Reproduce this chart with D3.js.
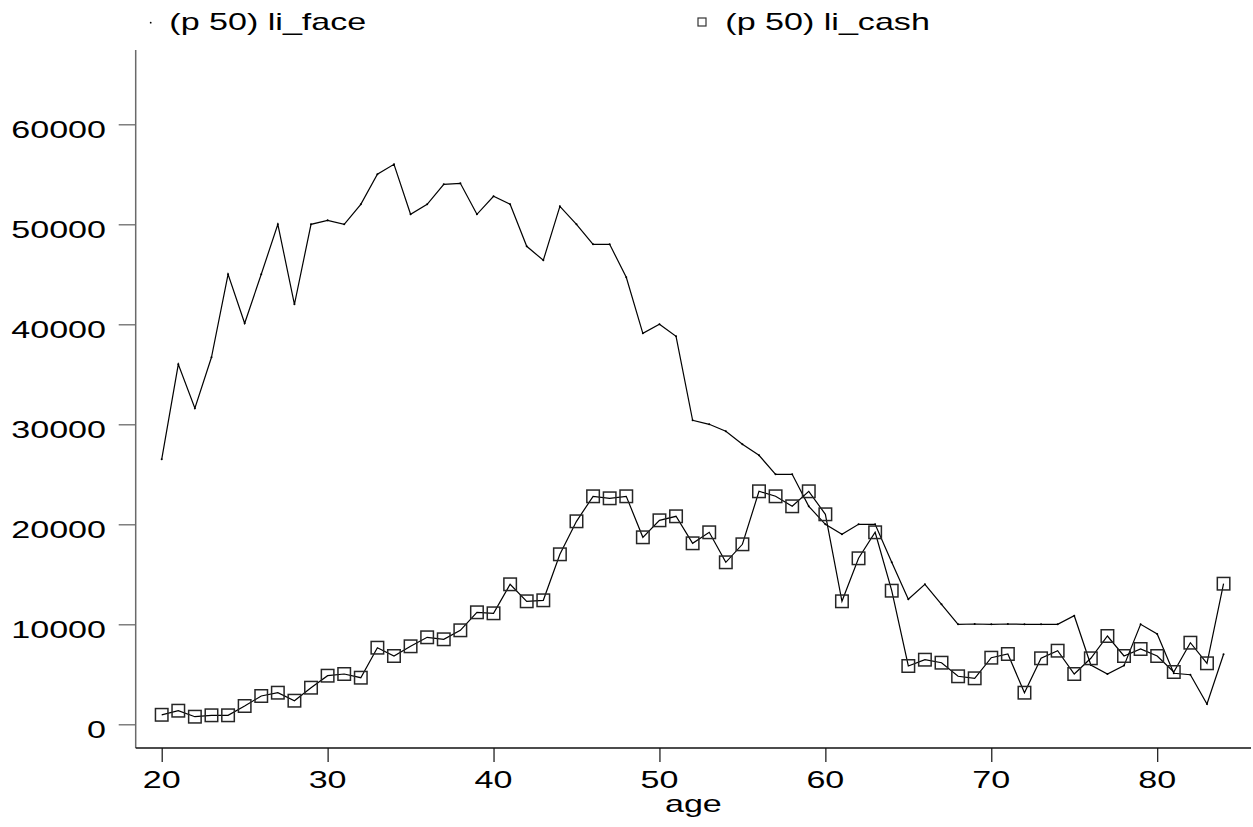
<!DOCTYPE html>
<html>
<head>
<meta charset="utf-8">
<style>
  body { margin: 0; background: #fff; }
  svg { display: block; }
  text { font-family: "Liberation Sans", Arial, sans-serif; fill: #000; }
</style>
</head>
<body>
<svg width="1253" height="827"></svg>
<script src="https://cdn.jsdelivr.net/npm/d3@7"></script>
<script>
  // ages on the x axis
  const ages = [20, 21, 22, 23, 24, 25, 26, 27, 28, 29,
                30, 31, 32, 33, 34, 35, 36, 37, 38, 39,
                40, 41, 42, 43, 44, 45, 46, 47, 48, 49,
                50, 51, 52, 53, 54, 55, 56, 57, 58, 59,
                60, 61, 62, 63, 64, 65, 66, 67, 68, 69,
                70, 71, 72, 73, 74, 75, 76, 77, 78, 79,
                80, 81, 82, 83, 84];

  // (p 50) li_face
  const liFace = [26500, 36000, 31600, 36700, 45000, 40100, 45000, 50000, 42000, 50000,
                  50400, 50000, 52000, 55000, 56000, 51000, 52000, 54000, 54100, 51000,
                  52800, 52000, 47800, 46400, 51800, 50000, 48000, 48000, 44700, 39100,
                  40000, 38800, 30400, 30000, 29300, 28000, 26900, 25000, 25000, 21800,
                  20000, 19000, 20000, 20000, 16200, 12500, 14000, 12000, 10000, 10030,
                  10000, 10030, 10000, 10000, 10000, 10860, 5930, 5030, 5870, 10000,
                  9030, 5100, 4960, 2030, 7000];

  // (p 50) li_cash
  const liCash = [950, 1360, 760, 900, 900, 1830, 2830, 3160, 2360, 3660,
                  4860, 5030, 4660, 7660, 6830, 7800, 8700, 8500, 9400, 11200,
                  11100, 14000, 12300, 12400, 17000, 20300, 22800, 22600, 22800, 18700,
                  20400, 20800, 18100, 19200, 16200, 18000, 23300, 22800, 21800, 23300,
                  21000, 12300, 16600, 19200, 13360, 5830, 6460, 6160, 4800, 4600,
                  6660, 7030, 3160, 6600, 7360, 5030, 6600, 8830, 6830, 7530,
                  6830, 5230, 8160, 6100, 14060];

  const xTicks = [20, 30, 40, 50, 60, 70, 80];
  const yTicks = [0, 10000, 20000, 30000, 40000, 50000, 60000];
  const legendLabels = ["(p 50) li_face", "(p 50) li_cash"];
  const xTitle = "age";

  const svg = d3.select("svg");
  const stretch = 1.42;   // the original glyphs are drawn wide

  const frame = { left: 135.7, right: 1251, top: 50, bottom: 748 };

  const x = d3.scaleLinear().domain([20, 80]).range([161.7, 1157.2]);
  const y = d3.scaleLinear().domain([0, 60000]).range([724.3, 124.3]);

  // y axis
  const yAxis = svg.append("g")
    .attr("transform", `translate(${frame.left},0)`)
    .call(d3.axisLeft(y).tickValues(yTicks).tickSize(17).tickFormat(d3.format("d")));
  yAxis.select(".domain").remove();
  yAxis.selectAll(".tick line").attr("stroke", "#6a6a6a").attr("stroke-width", 1.3);
  yAxis.selectAll(".tick text").remove();
  yAxis.append("line")
    .attr("x1", 0).attr("x2", 0)
    .attr("y1", frame.top).attr("y2", frame.bottom)
    .attr("stroke", "#6a6a6a").attr("stroke-width", 1.5);

  svg.append("g").selectAll("text")
    .data(yTicks)
    .join("text")
    .attr("text-anchor", "end")
    .attr("font-size", 24)
    .attr("transform", d => `translate(106,${y(d) + 14}) scale(${stretch},1)`)
    .text(d => d3.format("d")(d));

  // x axis
  const xAxis = svg.append("g")
    .attr("transform", `translate(0,${frame.bottom})`)
    .call(d3.axisBottom(x).tickValues(xTicks).tickSize(14));
  xAxis.select(".domain").remove();
  xAxis.selectAll(".tick line").attr("stroke", "#111").attr("stroke-width", 1.2);
  xAxis.selectAll(".tick text").remove();
  xAxis.append("line")
    .attr("x1", frame.left).attr("x2", frame.right)
    .attr("y1", 0).attr("y2", 0)
    .attr("stroke", "#111").attr("stroke-width", 1.5);

  svg.append("g").selectAll("text")
    .data(xTicks)
    .join("text")
    .attr("text-anchor", "middle")
    .attr("font-size", 24)
    .attr("transform", d => `translate(${x(d)},788) scale(${stretch},1)`)
    .text(d => d);

  svg.append("text")
    .attr("text-anchor", "middle")
    .attr("font-size", 24)
    .attr("transform", `translate(${(frame.left + frame.right) / 2},812) scale(${stretch},1)`)
    .text(xTitle);

  // series
  const faceData = ages.map((a, i) => ({ age: a, v: liFace[i] }));
  const cashData = ages.map((a, i) => ({ age: a, v: liCash[i] }));

  const line = d3.line().x(d => x(d.age)).y(d => y(d.v));

  svg.append("path")
    .datum(faceData)
    .attr("d", line)
    .attr("fill", "none")
    .attr("stroke", "#000")
    .attr("stroke-width", 1.2);

  svg.append("g").selectAll("circle")
    .data(faceData)
    .join("circle")
    .attr("cx", d => x(d.age))
    .attr("cy", d => y(d.v))
    .attr("r", 1)
    .attr("fill", "#000");

  svg.append("path")
    .datum(cashData)
    .attr("d", line)
    .attr("fill", "none")
    .attr("stroke", "#000")
    .attr("stroke-width", 1.2);

  const sq = 12.5;
  svg.append("g").selectAll("rect")
    .data(cashData)
    .join("rect")
    .attr("x", d => x(d.age) - sq / 2)
    .attr("y", d => y(d.v) - sq / 2)
    .attr("width", sq)
    .attr("height", sq)
    .attr("fill", "none")
    .attr("stroke", "#262626")
    .attr("stroke-width", 1.5);

  // legend
  svg.append("circle")
    .attr("cx", 150.7).attr("cy", 22.7).attr("r", 0.9).attr("fill", "#000");
  svg.append("text")
    .attr("font-size", 24)
    .attr("transform", `translate(169.3,29.5) scale(${stretch},1)`)
    .text(legendLabels[0]);

  svg.append("rect")
    .attr("x", 698).attr("y", 18).attr("width", 8).attr("height", 8)
    .attr("fill", "none").attr("stroke", "#333").attr("stroke-width", 1.2);
  svg.append("text")
    .attr("font-size", 24)
    .attr("transform", `translate(725.3,29.5) scale(${stretch},1)`)
    .text(legendLabels[1]);
</script>
</body>
</html>
